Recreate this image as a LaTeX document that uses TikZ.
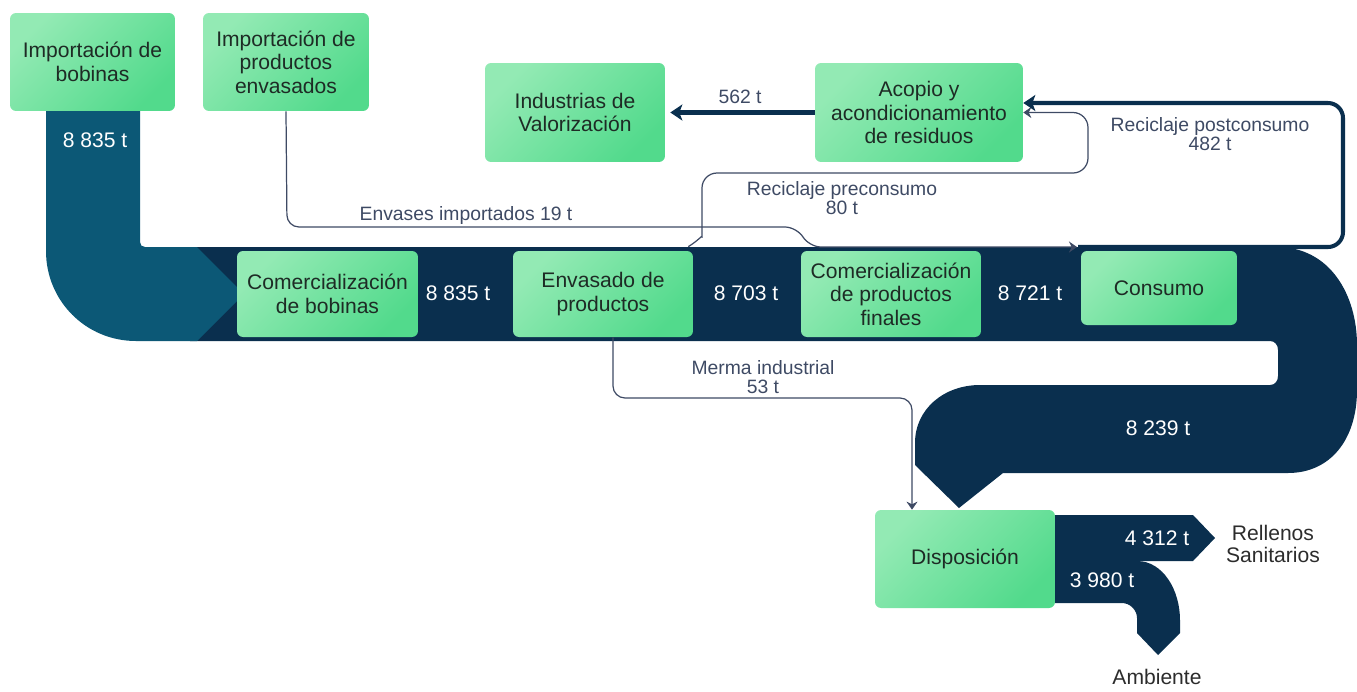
\documentclass[tikz,border=0pt]{standalone}
\usepackage{fontspec}
\setmainfont{Liberation Sans}
\usetikzlibrary{arrows.meta}
\definecolor{navy}{HTML}{0A2F4E}
\definecolor{tealband}{HTML}{0C5876}
\definecolor{boxlight}{HTML}{93EAB4}
\definecolor{boxdark}{HTML}{52DA8C}
\definecolor{boxtext}{HTML}{1E2B25}
\definecolor{linegray}{HTML}{3E4A64}
\definecolor{endtext}{HTML}{2C2C2C}
\begin{document}
\begin{tikzpicture}[x=0.02cm, y=-0.02cm,
        box/.style={rounded corners=0.12cm, top color=boxlight, bottom color=boxdark, shading angle=45,
            align=center, text=boxtext, inner sep=0pt, font=\fontsize{12}{13.4}\selectfont},
        flowval/.style={text=white, font=\fontsize{12}{14}\selectfont},
        lbl/.style={text=linegray, align=center, font=\fontsize{11}{11}\selectfont},
        endlbl/.style={text=endtext, align=center, font=\fontsize{12}{12.5}\selectfont},
        thinflow/.style={draw=linegray, line width=0.7pt, rounded corners=0.24cm,
            -{Stealth[length=0.16cm, width=0.22cm]}},
        thickflow/.style={draw=navy, line width=2.3pt, -{Stealth[length=0.24cm, width=0.32cm, inset=0.06cm]}}]
    \useasboundingbox (0,0) rectangle (1357,691);
    % wide bands
    \fill[navy] (190,247) -- (1277,247) .. controls (1330,247) and (1357,295) .. (1357,345) -- (1357,390)
        .. controls (1357,440) and (1330,473) .. (1288,473) -- (1003,473) -- (959,508) -- (915,465) -- (915,443)
        .. controls (915,409) and (944,385) .. (980,385) -- (1270,385) .. controls (1275,385) and (1278,381) .. (1278,376)
        -- (1278,350) .. controls (1278,345) and (1275,341) .. (1270,341) -- (190,341) -- cycle;
    \fill[tealband] (46,111) -- (140,111) -- (140,242) .. controls (140,245) and (142,247) .. (145,247) -- (197,247)
        -- (244,294) -- (197,341) -- (136,341) .. controls (86,341) and (46,301) .. (46,251) -- cycle;
    \fill[navy] (1050,515) -- (1193,515) -- (1215,538) -- (1193,561) -- (1050,561) -- cycle;
    \fill[navy] (1050,561) -- (1137,561) .. controls (1163,561) and (1180,590) .. (1180,620) -- (1180,633)
        -- (1158,655) -- (1137,633) -- (1137,618) .. controls (1137,610) and (1130,603) .. (1122,603) -- (1050,603) -- cycle;
    % boxes
    \node[box, minimum width=3.3cm, minimum height=1.96cm] (impbob) at (92.5,62) {Importación de\\bobinas};
    \node[box, minimum width=3.32cm, minimum height=1.96cm] (impenv) at (286,62) {Importación de\\productos\\envasados};
    \node[box, minimum width=3.6cm, minimum height=1.98cm] (indval) at (575,112.5) {Industrias de\\Valorización};
    \node[box, minimum width=4.16cm, minimum height=1.98cm] (acopio) at (919,112.5) {Acopio y\\acondicionamiento\\de residuos};
    \node[box, minimum width=3.62cm, minimum height=1.72cm] (combob) at (327.5,294) {Comercialización\\de bobinas};
    \node[box, minimum width=3.6cm, minimum height=1.72cm] (envasado) at (603,294) {Envasado de\\productos};
    \node[box, minimum width=3.6cm, minimum height=1.72cm] (comfin) at (891,294) {Comercialización\\de productos\\finales};
    \node[box, minimum width=3.12cm, minimum height=1.48cm] (consumo) at (1159,288) {Consumo};
    \node[box, minimum width=3.6cm, minimum height=1.96cm] (disp) at (965,559) {Disposición};
    % values on the bands
    \node[flowval] (v1) at (95,140) {8 835 t};
    \node[flowval] (v2) at (458,293) {8 835 t};
    \node[flowval] (v3) at (746,293) {8 703 t};
    \node[flowval] (v4) at (1030,293) {8 721 t};
    \node[flowval] (v5) at (1158,428) {8 239 t};
    \node[flowval] (v6) at (1157,538) {4 312 t};
    \node[flowval] (v7) at (1102,580) {3 980 t};
    \node[endlbl] (rellenos) at (1273,544) {Rellenos\\Sanitarios};
    \node[endlbl] (ambiente) at (1157,677) {Ambiente};
    % connectors
    \coordinate (envin) at (1077,247);
    \coordinate (postin) at (1078,247);
    \draw[thinflow] (impenv.south) -- (287,227) -- (797,227) -- (809,247) -- (envin);
    \draw[thinflow, rounded corners=0.3cm] ([xshift=-0.1cm, yshift=0.08cm]envasado.north east)
        .. controls (699,240) and (702,235) .. (702,222) -- (702,173) -- (1088,173) -- (1088,112.5) -- (acopio.east);
    \draw[thinflow] ([xshift=0.2cm]envasado.south) -- (613,398) -- (912,398) -- (disp.north -| 912,0);
    \draw[thickflow, rounded corners=0.3cm] (postin) -- (1343,247) -- (1343,103) -- (acopio.east |- 0,103);
    \draw[thickflow] (acopio.west) -- ([xshift=0.1cm]indval.east);
    % labels on the connectors
    \node[lbl] (l562) at (740,97) {562 t};
    \node[lbl] (lenv) at (466,215) {Envases importados 19 t};
    \node[lbl] (lpre) at (842,198) {Reciclaje preconsumo\\80 t};
    \node[lbl] (lmer) at (763,377) {Merma industrial\\53 t};
    \node[lbl] (lpost) at (1210,134) {Reciclaje postconsumo\\482 t};
\end{tikzpicture}
\end{document}
